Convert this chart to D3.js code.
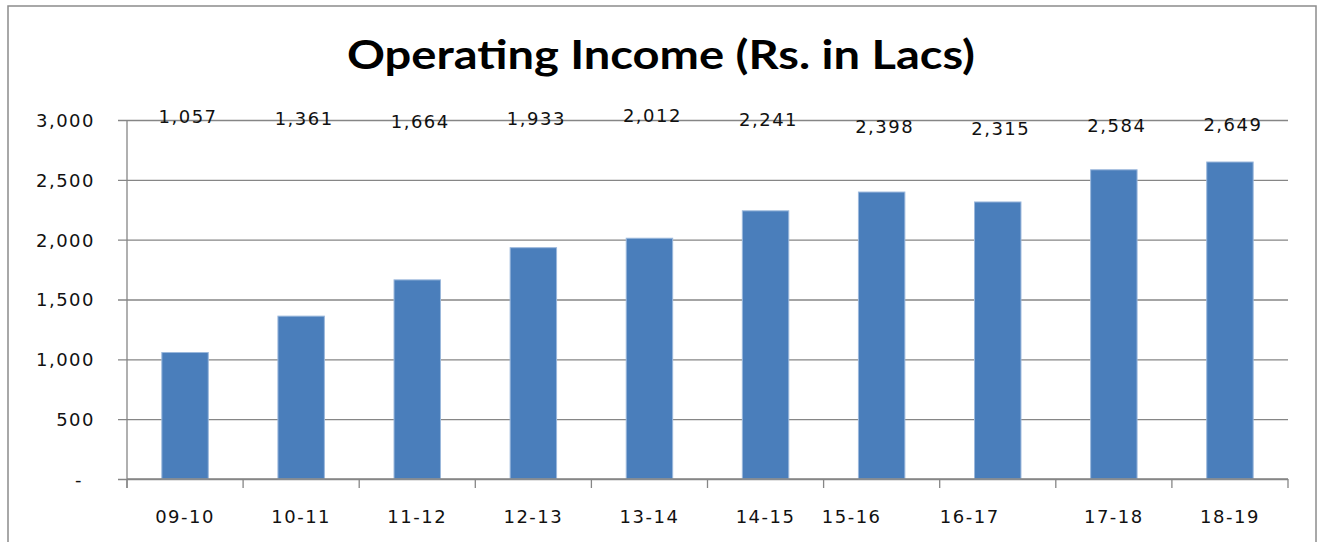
<!DOCTYPE html>
<html>
<head>
<meta charset="utf-8">
<script src="https://cdn.jsdelivr.net/npm/d3@7"></script>
<style>
    body { margin: 0; background: #ffffff; }
    .tick-label { font-family: "DejaVu Sans", Verdana, sans-serif; font-size: 18px; letter-spacing: 1.5px; fill: #111; }
    .chart-title { font-family: Lato, Calibri, sans-serif; font-weight: bold; font-size: 41px; fill: #000; }
</style>
</head>
<body>
<div id="chart"></div>
<script>
// data
const years = ["09-10", "10-11", "11-12", "12-13", "13-14", "14-15", "15-16", "16-17", "17-18", "18-19"];
const income = [1057, 1361, 1664, 1933, 2012, 2241, 2398, 2315, 2584, 2649];
const yTicks = [0, 500, 1000, 1500, 2000, 2500, 3000];

const W = 1319, H = 542;
const plot = { left: 127, right: 1288, top: 120, bottom: 479 };

// small visual quirks of the original (label nudges), not data
const valueLabelBaseline = [123, 125, 128, 125, 122, 126, 133, 135, 132, 131];
const yearLabelShift = [0, 0, 0, 0, 0, 0, -30, -28, 0, 0];

const svg = d3.select("#chart").append("svg")
    .attr("width", W)
    .attr("height", H);

// outer frame
svg.append("rect")
    .attr("x", 8).attr("y", 6)
    .attr("width", 1308).attr("height", 540)
    .attr("fill", "none")
    .attr("stroke", "#8c8c8c")
    .attr("stroke-width", 1.5);

svg.append("text")
    .attr("class", "chart-title")
    .attr("x", 661)
    .attr("y", 69)
    .attr("text-anchor", "middle")
    .attr("textLength", 628)
    .attr("lengthAdjust", "spacingAndGlyphs")
    .text("Operating Income (Rs. in Lacs)");

const x = d3.scaleBand().domain(years).range([plot.left, plot.right]).paddingInner(0.6).paddingOuter(0.3);
const xTickScale = d3.scaleBand().domain(years).range([plot.left, plot.right]);
const y = d3.scaleLinear().domain([0, 3000]).range([plot.bottom, plot.top]);

// gridlines + y axis
const yAxis = d3.axisLeft(y)
    .tickValues(yTicks)
    .tickSize(-(plot.right - plot.left))
    .tickPadding(0)
    .tickFormat(d => d === 0 ? "-" : d3.format(",")(d));

const yg = svg.append("g")
    .attr("transform", `translate(${plot.left},0)`)
    .call(yAxis);
yg.select(".domain").remove();
yg.selectAll(".tick line")
    .attr("x1", -9)
    .attr("stroke", "#868686")
    .attr("stroke-width", 1.3);
yg.selectAll(".tick text")
    .attr("class", "tick-label")
    .attr("x", -32)
    .attr("dy", "0.36em")
    .style("font-family", null).style("font-size", null);
yg.selectAll(".tick")
    .filter(d => d === 0)
    .select("text")
    .attr("x", -44);

svg.append("line")
    .attr("x1", plot.left).attr("x2", plot.left)
    .attr("y1", plot.top).attr("y2", plot.bottom + 9)
    .attr("stroke", "#868686").attr("stroke-width", 1.3);

// bars
svg.selectAll(".bar")
    .data(income)
    .enter().append("rect")
    .attr("class", "bar")
    .attr("x", (d, i) => x(years[i]))
    .attr("width", x.bandwidth())
    .attr("y", d => y(d))
    .attr("height", d => y(0) - y(d))
    .attr("fill", "#4a7ebb")
    .attr("stroke", "#9bb8dc")
    .attr("stroke-width", 1);

// x axis line + ticks between categories
svg.append("line")
    .attr("x1", plot.left).attr("x2", plot.right)
    .attr("y1", plot.bottom).attr("y2", plot.bottom)
    .attr("stroke", "#868686").attr("stroke-width", 1.3);

const tickXs = years.map(c => xTickScale(c)).concat([plot.right]);
svg.selectAll(".xtick")
    .data(tickXs)
    .enter().append("line")
    .attr("x1", d => d).attr("x2", d => d)
    .attr("y1", plot.bottom).attr("y2", plot.bottom + 9)
    .attr("stroke", "#868686").attr("stroke-width", 1.3);

svg.selectAll(".year-label")
    .data(years)
    .enter().append("text")
    .attr("class", "tick-label")
    .attr("x", (d, i) => xTickScale(d) + xTickScale.bandwidth() / 2 + yearLabelShift[i])
    .attr("y", 523)
    .attr("text-anchor", "middle")
    .text(d => d);

// value labels near the top
svg.selectAll(".value-label")
    .data(income)
    .enter().append("text")
    .attr("class", "tick-label")
    .attr("x", (d, i) => x(years[i]) + x.bandwidth() / 2 + 3)
    .attr("y", (d, i) => valueLabelBaseline[i])
    .attr("text-anchor", "middle")
    .text(d => d3.format(",")(d));
</script>
</body>
</html>
